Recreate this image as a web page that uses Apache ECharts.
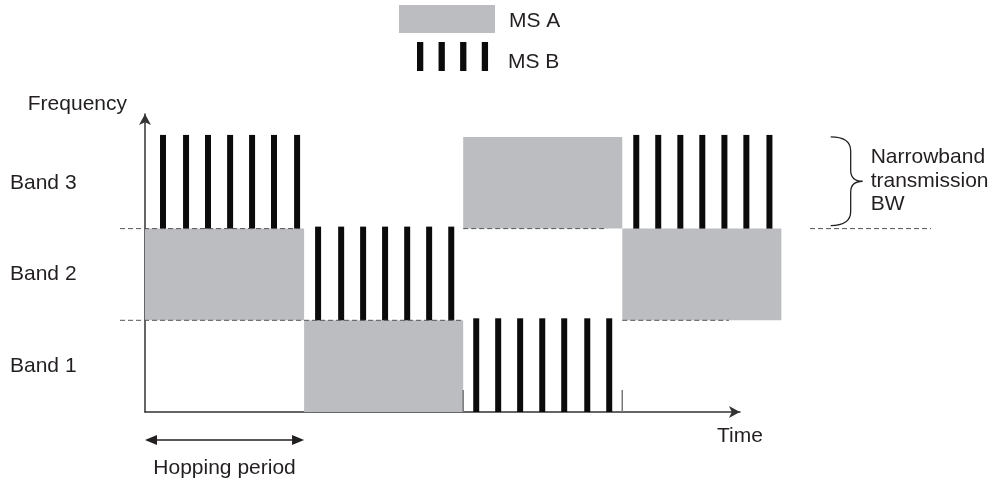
<!DOCTYPE html>
<html><head><meta charset="utf-8">
<script src="https://cdn.jsdelivr.net/npm/echarts@6/dist/echarts.min.js"></script>
<style>html,body{margin:0;padding:0;background:#fff}#c{width:998px;height:482px}</style>
</head><body><div id="c"></div>
<script>
const bandLabels = ['Band 1', 'Band 2', 'Band 3'];
const bandTicks = [0.5, 1.5, 2.5];
// MS A hops: [start (periods), end (periods), band]
const msAHops = [[0, 1, 2], [1, 2, 1], [2, 3, 3], [3, 4, 2]];
// MS B bursts: [time (periods), band]
const msBBursts = [
  [0.113, 3], [0.258, 3], [0.396, 3], [0.535, 3], [0.673, 3], [0.811, 3], [0.956, 3],
  [1.088, 2], [1.233, 2], [1.371, 2], [1.509, 2], [1.648, 2], [1.786, 2], [1.925, 2],
  [2.082, 1], [2.220, 1], [2.358, 1], [2.497, 1], [2.635, 1], [2.780, 1], [2.918, 1],
  [3.088, 3], [3.226, 3], [3.365, 3], [3.503, 3], [3.642, 3], [3.780, 3], [3.925, 3]
];
// dashed band boundaries: [from, to, level]
const boundaryLines = [[-0.157, 0.975, 2], [2.0, 2.906, 2], [4.18, 4.94, 2], [-0.157, 2.0, 1], [3.0, 3.67, 1]];
// small slot boundary marks: [time, height]
const slotMarks = [[2, 0.24], [3, 0.24]];
// hopping period span [start, end]
const hoppingPeriod = [[0, 1]];
// narrowband bracket: [time, band]
const narrowbandBracket = [[4.31, 3]];
const annotationTexts = { hop: 'Hopping period', bw: ['Narrowband', 'transmission', 'BW'] };

const FONT = "'Liberation Sans', Arial, Helvetica, sans-serif";
const TXT = '#231f20';
const GRAY = '#bcbdc1';

const chart = echarts.init(document.getElementById('c'));
const option = {
  animation: false,
  backgroundColor: '#fff',
  textStyle: { fontFamily: FONT },
  grid: { left: 145, top: 114, width: 595, height: 298, containLabel: false },
  legend: [
    {
      data: [{ name: 'MS A', icon: 'rect' }],
      left: 399, top: 5, padding: 0, itemWidth: 96, itemHeight: 28, selectedMode: false,
      formatter: '{t|{name}}',
      textStyle: { fontSize: 21, color: TXT, fontFamily: FONT, padding: [0, 0, 0, 9],
        rich: { t: { fontSize: 21, color: TXT, fontFamily: FONT, padding: [4, 0, 0, 0] } } }
    },
    {
      data: [{ name: 'MS B', icon: 'path://M0,0h6.5v30h-6.5zM22.3,0h6.5v30h-6.5zM44.6,0h6.5v30h-6.5zM67,0h6.5v30h-6.5z' }],
      left: 417, top: 42, padding: 0, itemWidth: 73, itemHeight: 29, selectedMode: false,
      formatter: '{t|{name}}',
      textStyle: { fontSize: 21, color: TXT, fontFamily: FONT, padding: [0, 0, 0, 14],
        rich: { t: { fontSize: 21, color: TXT, fontFamily: FONT, padding: [12, 0, 0, 0] } } }
    }
  ],
  xAxis: {
    type: 'value', min: 0, max: 3.74,
    axisLine: { show: true, lineStyle: { color: '#333', width: 1.5 }, symbol: ['none', 'arrow'], symbolSize: [9, 11] },
    axisTick: { show: false }, axisLabel: { show: false }, splitLine: { show: false },
    name: 'Time', nameLocation: 'end', nameGap: 0,
    nameTextStyle: { fontSize: 21, color: TXT, fontFamily: FONT, align: 'center', verticalAlign: 'top', padding: [14, 0, 0, 0] }
  },
  yAxis: {
    type: 'value', min: 0, max: 3.25, interval: 0.5,
    axisLine: { show: true, lineStyle: { color: '#333', width: 1.5 }, symbol: ['none', 'arrow'], symbolSize: [9, 11] },
    axisTick: { show: false }, splitLine: { show: false },
    axisLabel: {
      fontSize: 21, color: TXT, fontFamily: FONT, align: 'left', margin: 135,
      formatter: v => { const i = bandTicks.findIndex(t => Math.abs(t - v) < 1e-6); return i >= 0 ? bandLabels[i] : ''; }
    },
    name: 'Frequency', nameLocation: 'end', nameGap: 10,
    nameTextStyle: { fontSize: 21, color: TXT, fontFamily: FONT, align: 'right', verticalAlign: 'middle', padding: [0, 18, 0, 0] }
  },
  series: [
    {
      name: 'MS A', type: 'custom', clip: false, itemStyle: { color: GRAY },
      encode: { x: [0, 1], y: 2 },
      data: msAHops,
      renderItem: (p, api) => {
        const s = api.coord([api.value(0), api.value(2)]);
        const e = api.coord([api.value(1), api.value(2) - 1]);
        return { type: 'rect', shape: { x: s[0], y: s[1], width: e[0] - s[0], height: e[1] - s[1] }, style: { fill: GRAY } };
      }
    },
    {
      name: 'MS B', type: 'custom', clip: false, itemStyle: { color: '#0b0b0b' },
      encode: { x: 0, y: 1 },
      data: msBBursts,
      renderItem: (p, api) => {
        const top = api.coord([api.value(0), api.value(1)]);
        const bot = api.coord([api.value(0), api.value(1) - 1]);
        const w = 6;
        return { type: 'rect', shape: { x: top[0] - w / 2, y: top[1] - 2, width: w, height: bot[1] - top[1] + 2 }, style: { fill: '#0b0b0b' } };
      }
    },
    {
      name: 'boundaries', type: 'custom', clip: false, silent: true,
      encode: { x: [0, 1], y: 2 },
      data: boundaryLines,
      renderItem: (p, api) => {
        const a = api.coord([api.value(0), api.value(2)]);
        const b = api.coord([api.value(1), api.value(2)]);
        return { type: 'line', shape: { x1: a[0], y1: a[1], x2: b[0], y2: b[1] }, style: { stroke: '#555', lineWidth: 1, lineDash: [5, 3] } };
      }
    },
    {
      name: 'slotMarks', type: 'custom', clip: false, silent: true,
      encode: { x: 0, y: 1 },
      data: slotMarks,
      renderItem: (p, api) => {
        const a = api.coord([api.value(0), 0]);
        const b = api.coord([api.value(0), api.value(1)]);
        return { type: 'line', shape: { x1: a[0], y1: a[1], x2: b[0], y2: b[1] }, style: { stroke: '#777', lineWidth: 1.5 } };
      }
    },
    {
      name: 'hopping', type: 'custom', clip: false, silent: true,
      encode: { x: [0, 1] },
      data: hoppingPeriod,
      renderItem: (p, api) => {
        const a = api.coord([api.value(0), 0]);
        const b = api.coord([api.value(1), 0]);
        const y = a[1] + 28, L = 12, H = 5;
        return {
          type: 'group', children: [
            { type: 'line', shape: { x1: a[0] + 4, y1: y, x2: b[0] - 4, y2: y }, style: { stroke: '#231f20', lineWidth: 1.5 } },
            { type: 'polygon', shape: { points: [[a[0], y], [a[0] + L, y - H], [a[0] + L, y + H]] }, style: { fill: '#231f20' } },
            { type: 'polygon', shape: { points: [[b[0], y], [b[0] - L, y - H], [b[0] - L, y + H]] }, style: { fill: '#231f20' } },
            { type: 'text', style: { text: annotationTexts.hop, x: (a[0] + b[0]) / 2, y: y + 28, align: 'center', verticalAlign: 'middle', fontSize: 21, fontFamily: FONT, fill: TXT } }
          ]
        };
      }
    },
    {
      name: 'bracket', type: 'custom', clip: false, silent: true,
      encode: { x: 0, y: 1 },
      data: narrowbandBracket,
      renderItem: (p, api) => {
        const t = api.coord([api.value(0), api.value(1)]);
        const b = api.coord([api.value(0), api.value(1) - 1]);
        const x0 = t[0], y0 = t[1], y1 = b[1] - 3;
        const xm = x0 + 20, xt = x0 + 32, ym = (y0 + y1) / 2;
        const path = `M${x0},${y0} Q${xm},${y0} ${xm},${y0 + 14} L${xm},${ym - 11} Q${xm},${ym} ${xt},${ym} Q${xm},${ym} ${xm},${ym + 11} L${xm},${y1 - 14} Q${xm},${y1} ${x0},${y1}`;
        const tx = xt + 8;
        return {
          type: 'group', children: [
            { type: 'path', shape: { pathData: path }, style: { stroke: '#231f20', lineWidth: 1.3, fill: null } },
            { type: 'text', style: { text: annotationTexts.bw[0], x: tx, y: ym - 24, verticalAlign: 'middle', fontSize: 21, fontFamily: FONT, fill: TXT } },
            { type: 'text', style: { text: annotationTexts.bw[1], x: tx, y: ym, verticalAlign: 'middle', fontSize: 21, fontFamily: FONT, fill: TXT } },
            { type: 'text', style: { text: annotationTexts.bw[2], x: tx, y: ym + 23, verticalAlign: 'middle', fontSize: 21, fontFamily: FONT, fill: TXT } }
          ]
        };
      }
    }
  ]
};
chart.setOption(option);
</script>
</body></html>
